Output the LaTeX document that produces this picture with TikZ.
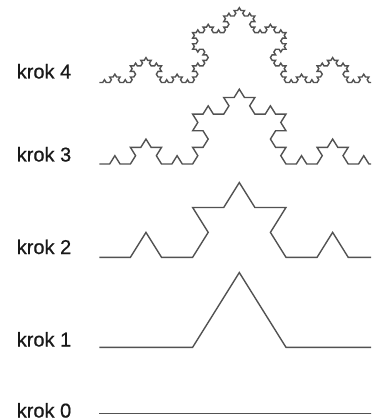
\documentclass[tikz,border=0pt]{standalone}
\usepackage{fontspec}
\setmainfont{Liberation Sans}
\newfontfamily\labelfont{Liberation Sans}[FakeBold=0.7]

% Koch curve: \kochseg{depth}{x1}{y1}{x2}{y2} appends " -- (x,y)" pieces to \kochacc
\makeatletter
\newcommand\kochseg[5]{%
  \ifnum#1=0
    \xdef\kochacc{\kochacc -- (#4,#5)}%
  \else
    \begingroup
      \pgfmathsetmacro\kdx{(#4-#2)/3}%
      \pgfmathsetmacro\kdy{(#5-#3)/3}%
      \pgfmathsetmacro\kax{#2+\kdx}%
      \pgfmathsetmacro\kay{#3+\kdy}%
      \pgfmathsetmacro\kbx{#2+2*\kdx}%
      \pgfmathsetmacro\kby{#3+2*\kdy}%
      \pgfmathsetmacro\kpx{\kax+0.5*\kdx-0.8660254*\kdy}%
      \pgfmathsetmacro\kpy{\kay+0.8660254*\kdx+0.5*\kdy}%
      \edef\km{\the\numexpr#1-1\relax}%
      \edef\knext{%
        \noexpand\kochseg{\km}{#2}{#3}{\kax}{\kay}%
        \noexpand\kochseg{\km}{\kax}{\kay}{\kpx}{\kpy}%
        \noexpand\kochseg{\km}{\kpx}{\kpy}{\kbx}{\kby}%
        \noexpand\kochseg{\km}{\kbx}{\kby}{#4}{#5}}%
      \knext
    \endgroup
  \fi}
\makeatother

% builds the path of depth #1 into \kochacc
\newcommand\kochbuild[1]{%
  \gdef\kochacc{(99.3,0)}%
  \kochseg{#1}{99.3}{0}{379.3}{0}}

\tikzset{
  kochline/.style={draw=black!68, line width=1.05, line join=miter},
  steplabel/.style={anchor=base west, inner sep=0pt, text=black!90,
    font=\labelfont\fontsize{15}{18}\selectfont}
}

\begin{document}
\begin{tikzpicture}[x=0.75pt, y=-0.75pt]
  \useasboundingbox (0,0) rectangle (371,420);
  \clip (0,0) rectangle (371,420);

  % curves, baselines in pixel rows
  \foreach \n/\base in {0/413.3, 1/347.3, 2/257.3, 3/164.0, 4/82.5} {
    \kochbuild{\n}
    \begin{scope}[shift={(0,\base)}, yscale=-0.925]
      \draw[kochline] \kochacc;
    \end{scope}
  }

  % step labels
  \node[steplabel] (k4) at (16.5,78.5)  {krok 4};
  \node[steplabel] (k3) at (16.5,161.5) {krok 3};
  \node[steplabel] (k2) at (16.5,254.0) {krok 2};
  \node[steplabel] (k1) at (16.5,346.5) {krok 1};
  \node[steplabel] (k0) at (16.5,417.5) {krok 0};
\end{tikzpicture}
\end{document}
